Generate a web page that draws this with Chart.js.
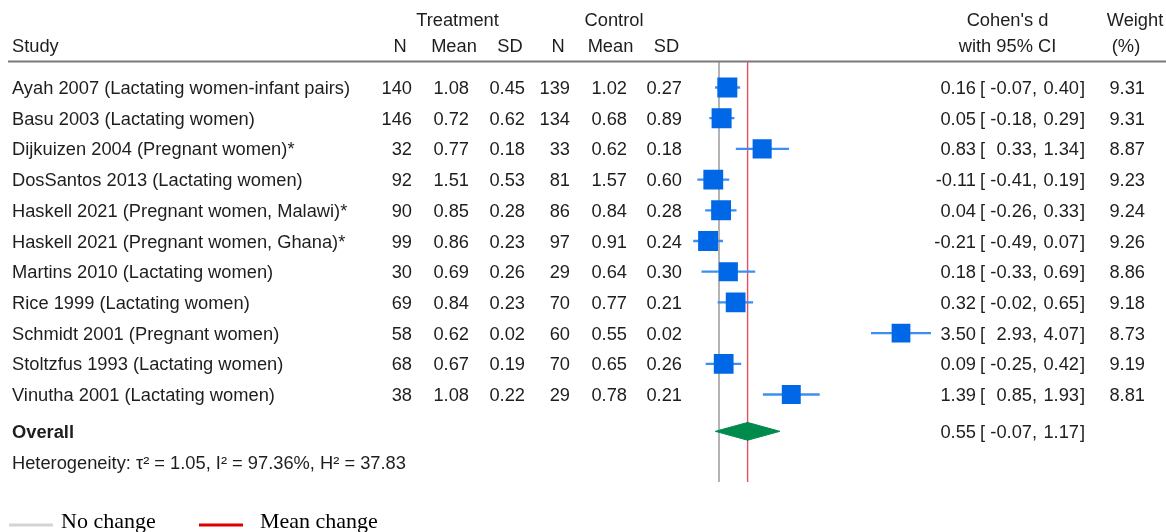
<!DOCTYPE html>
<html>
<head>
<meta charset="utf-8">
<script src="https://cdn.jsdelivr.net/npm/chart.js@4.4.1/dist/chart.umd.min.js"></script>
<style>
  html, body { margin: 0; padding: 0; background: #fff; overflow: hidden; }
  canvas { display: block; }
</style>
</head>
<body>
<canvas id="forest" width="1166" height="532"></canvas>
<script>
// study table
const studies = [
    'Ayah 2007 (Lactating women-infant pairs)',
    'Basu 2003 (Lactating women)',
    'Dijkuizen 2004 (Pregnant women)*',
    'DosSantos 2013 (Lactating women)',
    'Haskell 2021 (Pregnant women, Malawi)*',
    'Haskell 2021 (Pregnant women, Ghana)*',
    'Martins 2010 (Lactating women)',
    'Rice 1999 (Lactating women)',
    'Schmidt 2001 (Pregnant women)',
    'Stoltzfus 1993 (Lactating women)',
    'Vinutha 2001 (Lactating women)'
];
const nTreat = [140, 146, 32, 92, 90, 99, 30, 69, 58, 68, 38];
const meanTreat = [1.08, 0.72, 0.77, 1.51, 0.85, 0.86, 0.69, 0.84, 0.62, 0.67, 1.08];
const sdTreat = [0.45, 0.62, 0.18, 0.53, 0.28, 0.23, 0.26, 0.23, 0.02, 0.19, 0.22];
const nCtrl = [139, 134, 33, 81, 86, 97, 29, 70, 60, 70, 29];
const meanCtrl = [1.02, 0.68, 0.62, 1.57, 0.84, 0.91, 0.64, 0.77, 0.55, 0.65, 0.78];
const sdCtrl = [0.27, 0.89, 0.18, 0.60, 0.28, 0.24, 0.30, 0.21, 0.02, 0.26, 0.21];
const cohenD = [0.16, 0.05, 0.83, -0.11, 0.04, -0.21, 0.18, 0.32, 3.50, 0.09, 1.39];
const ciLow = [-0.07, -0.18, 0.33, -0.41, -0.26, -0.49, -0.33, -0.02, 2.93, -0.25, 0.85];
const ciHigh = [0.40, 0.29, 1.34, 0.19, 0.33, 0.07, 0.69, 0.65, 4.07, 0.42, 1.93];
const weight = [9.31, 9.31, 8.87, 9.23, 9.24, 9.26, 8.86, 9.18, 8.73, 9.19, 8.81];

// pooled estimate: d, lower, upper
const overall = [0.55, -0.07, 1.17];
const heterogeneity = 'Heterogeneity: \u03c4\u00b2 = 1.05, I\u00b2 = 97.36%, H\u00b2 = 37.83';
const refLabels = ['No change', 'Mean change'];

// row positions on the y scale
const rows = studies.map((s, i) => i + 1);
const overallRow = 12.2;
const hetRow = 13.25;
const lineSpan = [0.14, 13.85];
const diamondHalf = 0.29;

const sans = '"Liberation Sans", Arial, Helvetica, sans-serif';
const serif = '"Liberation Serif", "Times New Roman", serif';
const fontSize = 18.3;

const fmt = v => v.toFixed(2);

function txt(ctx, s, x, y, align) {
    ctx.textAlign = align || 'left';
    ctx.fillText(s, x, y);
}

function ciText(ctx, est, lo, hi, yy) {
    txt(ctx, fmt(est), 976, yy, 'right');
    txt(ctx, '[', 980, yy);
    txt(ctx, fmt(lo), 1032, yy, 'right');
    txt(ctx, ',', 1032, yy);
    txt(ctx, fmt(hi), 1079, yy, 'right');
    txt(ctx, ']', 1080, yy);
}

const tablePlugin = {
    id: 'forestTable',
    afterDraw(chart) {
        const ctx = chart.ctx;
        const y = chart.scales.y;
        ctx.save();

        // rule under the header
        ctx.strokeStyle = '#7a7a7a';
        ctx.lineWidth = 2;
        ctx.beginPath();
        ctx.moveTo(8, 61.5);
        ctx.lineTo(1166, 61.5);
        ctx.stroke();

        ctx.fillStyle = '#1e1e1e';
        ctx.font = fontSize + 'px ' + sans;
        ctx.textBaseline = 'middle';

        txt(ctx, 'Treatment', 457.5, 21, 'center');
        txt(ctx, 'Control', 614, 21, 'center');
        txt(ctx, "Cohen's d", 1007.5, 21, 'center');
        txt(ctx, 'Weight', 1135, 21, 'center');
        txt(ctx, 'Study', 12, 47);
        txt(ctx, 'N', 400, 47, 'center');
        txt(ctx, 'Mean', 454, 47, 'center');
        txt(ctx, 'SD', 510, 47, 'center');
        txt(ctx, 'N', 558, 47, 'center');
        txt(ctx, 'Mean', 610.5, 47, 'center');
        txt(ctx, 'SD', 666.5, 47, 'center');
        txt(ctx, 'with 95% CI', 1007.5, 47, 'center');
        txt(ctx, '(%)', 1126, 47, 'center');

        studies.forEach((s, i) => {
            const yy = y.getPixelForValue(rows[i]) + 1.5;
            txt(ctx, s, 12, yy);
            txt(ctx, String(nTreat[i]), 412, yy, 'right');
            txt(ctx, fmt(meanTreat[i]), 469, yy, 'right');
            txt(ctx, fmt(sdTreat[i]), 525, yy, 'right');
            txt(ctx, String(nCtrl[i]), 570, yy, 'right');
            txt(ctx, fmt(meanCtrl[i]), 627, yy, 'right');
            txt(ctx, fmt(sdCtrl[i]), 682, yy, 'right');
            ciText(ctx, cohenD[i], ciLow[i], ciHigh[i], yy);
            txt(ctx, fmt(weight[i]), 1145, yy, 'right');
        });

        const yo = y.getPixelForValue(overallRow) + 2;
        ciText(ctx, overall[0], overall[1], overall[2], yo);
        txt(ctx, heterogeneity, 12, y.getPixelForValue(hetRow));
        ctx.font = 'bold ' + fontSize + 'px ' + sans;
        txt(ctx, 'Overall', 12, yo);

        // legend for the two reference lines
        ctx.lineWidth = 3;
        ctx.strokeStyle = '#d4d4d4';
        ctx.beginPath(); ctx.moveTo(9, 525); ctx.lineTo(53, 525); ctx.stroke();
        ctx.strokeStyle = '#dd0000';
        ctx.beginPath(); ctx.moveTo(199, 525); ctx.lineTo(243, 525); ctx.stroke();
        ctx.font = '22px ' + serif;
        ctx.textBaseline = 'alphabetic';
        ctx.fillStyle = '#000';
        txt(ctx, refLabels[0], 61, 528);
        txt(ctx, refLabels[1], 260, 528);
        ctx.restore();
    }
};

const blue = '#0068e6';

new Chart(document.getElementById('forest'), {
    type: 'scatter',
    data: {
        datasets: [
            {
                label: 'Effect',
                data: cohenD.map((d, i) => ({ x: d, y: rows[i] })),
                pointStyle: 'rect',
                pointRadius: c => weight[c.dataIndex] * 2.15 / Math.SQRT2,
                pointBackgroundColor: blue,
                pointBorderWidth: 0
            },
            {
                type: 'bar',
                label: '95% CI',
                indexAxis: 'y',
                data: rows.map((r, i) => ({ y: r, x: [ciLow[i], ciHigh[i]] })),
                backgroundColor: '#3c8ef0',
                barThickness: 1.6,
                borderWidth: 0
            },
            {
                type: 'line',
                label: 'Overall',
                data: [
                    { x: overall[1], y: overallRow },
                    { x: overall[0], y: overallRow - diamondHalf },
                    { x: overall[2], y: overallRow },
                    { x: overall[0], y: overallRow + diamondHalf },
                    { x: overall[1], y: overallRow }
                ],
                borderColor: '#008a4c',
                backgroundColor: '#008a4c',
                borderWidth: 1,
                fill: 'shape',
                tension: 0,
                pointRadius: 0
            },
            {
                type: 'line',
                label: refLabels[1],
                data: lineSpan.map(v => ({ x: overall[0], y: v })),
                borderColor: '#e2505e',
                borderWidth: 1.4,
                pointRadius: 0
            },
            {
                type: 'line',
                label: refLabels[0],
                data: lineSpan.map(v => ({ x: 0, y: v })),
                borderColor: '#9a9a9a',
                borderWidth: 1.5,
                pointRadius: 0
            }
        ]
    },
    options: {
        responsive: false,
        animation: false,
        devicePixelRatio: 1,
        layout: { padding: { left: 693, right: 233.8, top: 56.8, bottom: 45.4 } },
        scales: {
            x: { type: 'linear', min: -0.5, max: 4.1, display: false, offset: false, grid: { offset: false } },
            y: { type: 'linear', min: 0, max: 14, reverse: true, display: false, offset: false, grid: { offset: false } }
        },
        plugins: {
            legend: { display: false },
            tooltip: { enabled: false }
        }
    },
    plugins: [tablePlugin]
});
</script>
</body>
</html>
